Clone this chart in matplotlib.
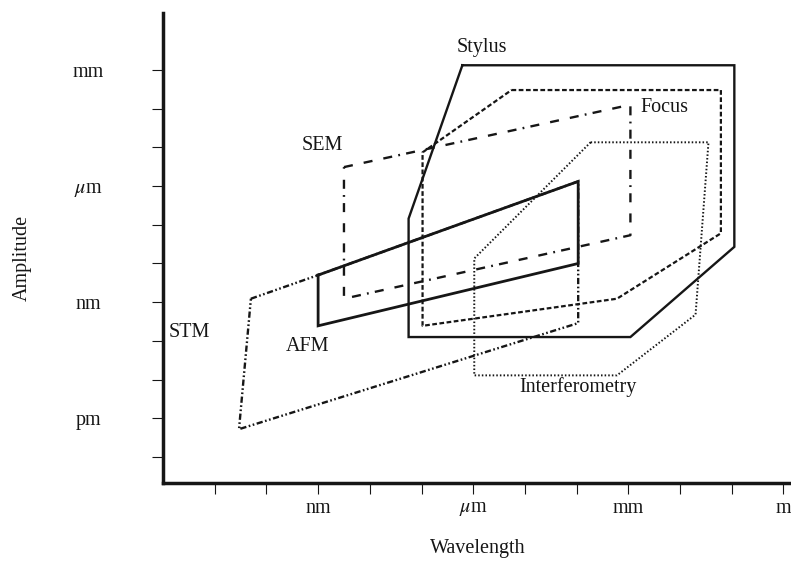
import matplotlib
matplotlib.use("Agg")
import matplotlib.pyplot as plt
import numpy as np

plt.rcParams["font.family"] = ["Liberation Serif", "DejaVu Serif"]
plt.rcParams["mathtext.fontset"] = "stix"
plt.rcParams["lines.scale_dashes"] = False

# All coordinates are log10 of a length in metres.
x_tick_dec = list(range(-11, 1))
x_tick_labels = ["", "", "nm", "", "", r"$\mu$m", "", "", "mm", "", "", "m"]
y_tick_dec = list(range(-13, -2))
y_tick_labels = ["", "pm", "", "", "nm", "", "", r"$\mu$m", "", "", "mm"]

# Measurement regimes (wavelength, amplitude) polygon vertices
stylus_x = [-6.21, -0.95, -0.95, -2.96, -7.25, -7.25]
stylus_y = [-2.88, -2.88, -7.57, -9.90, -9.90, -6.84]

focus_x = [-5.26, -1.21, -1.21, -3.22, -6.98, -6.98]
focus_y = [-3.52, -3.52, -7.22, -8.91, -9.61, -5.13]

sem_x = [-8.50, -2.96, -2.96, -8.50]
sem_y = [-5.51, -3.90, -7.27, -8.91]

afm_x = [-9.00, -3.97, -3.97, -9.00]
afm_y = [-8.30, -5.88, -8.00, -9.61]

stm_x = [-10.30, -9.00, -3.97, -3.97, -10.53]
stm_y = [-8.91, -8.30, -5.88, -9.54, -12.28]

interf_x = [-3.73, -1.45, -1.70, -3.22, -5.98, -5.98]
interf_y = [-4.87, -4.87, -9.32, -10.89, -10.89, -7.87]

labels = ["Stylus", "Focus", "SEM", "STM", "AFM", "Interferometry"]
label_x = [-5.84, -2.31, -8.92, -11.50, -9.20, -3.98]
label_y = [-2.43, -3.97, -4.95, -9.77, -10.14, -11.18]

FS = 14.5
W, H = 791, 569
fig = plt.figure(figsize=(W / 100, H / 100), dpi=100)
ax = fig.add_axes([163 / W, (H - 483) / H, (800 - 163) / W, (483 - 13) / H])
ax.set_xscale("log")
ax.set_yscale("log")


def closed(xs, ys):
    xs = np.array(xs + xs[:1], dtype=float)
    ys = np.array(ys + ys[:1], dtype=float)
    return 10.0 ** xs, 10.0 ** ys


k = "#161616"
ax.plot(*closed(stm_x, stm_y), color=k, lw=1.7,
        linestyle=(0, (4.5, 1.8, 1.2, 1.8, 1.2, 1.8)), solid_joinstyle="miter")
ax.plot(*closed(sem_x, sem_y), color=k, lw=1.7,
        linestyle=(0, (6.5, 8.0, 6.5, 8.0, 6.5, 4.5, 1.3, 4.5)))
ax.plot(*closed(focus_x, focus_y), color=k, lw=1.6, linestyle=(0, (3.4, 1.8)))
ax.plot(*closed(interf_x, interf_y), color=k, lw=1.4, linestyle=(0, (1.1, 1.5)))
ax.plot(*closed(stylus_x, stylus_y), color=k, lw=1.7, solid_joinstyle="miter")
ax.plot(*closed(afm_x, afm_y), color=k, lw=2.0, solid_joinstyle="miter")

for t, lx, ly in zip(labels, label_x, label_y):
    ax.text(10.0 ** lx, 10.0 ** ly, t, ha="center", va="center", fontsize=FS, color=k)

ax.set_xlim(10.0 ** -12.0, 10.0 ** 0.32)
ax.set_ylim(10.0 ** -13.67, 10.0 ** -1.53)

ax.set_xticks([10.0 ** d for d in x_tick_dec])
ax.set_xticklabels(x_tick_labels)
ax.set_yticks([10.0 ** d for d in y_tick_dec])
ax.set_yticklabels(y_tick_labels, ha="center")
ax.minorticks_off()

ax.tick_params(axis="both", direction="out", length=8, width=0.8, color=k,
               labelsize=FS, labelcolor=k)
ax.tick_params(axis="x", pad=3.5)
ax.tick_params(axis="y", pad=46)

for s in ["top", "right"]:
    ax.spines[s].set_visible(False)
for s in ["left", "bottom"]:
    ax.spines[s].set_linewidth(2.5)
    ax.spines[s].set_color(k)

ax.set_xlabel("Wavelength", fontsize=FS, va="center", color=k)
ax.xaxis.set_label_coords((478 - 163) / 637, (483 - 549) / 470)
ax.set_ylabel("Amplitude", fontsize=FS, va="center", color=k)
ax.yaxis.set_label_coords((22 - 163) / 637, (483 - 258) / 470)

fig.savefig("out.png", dpi=100)
